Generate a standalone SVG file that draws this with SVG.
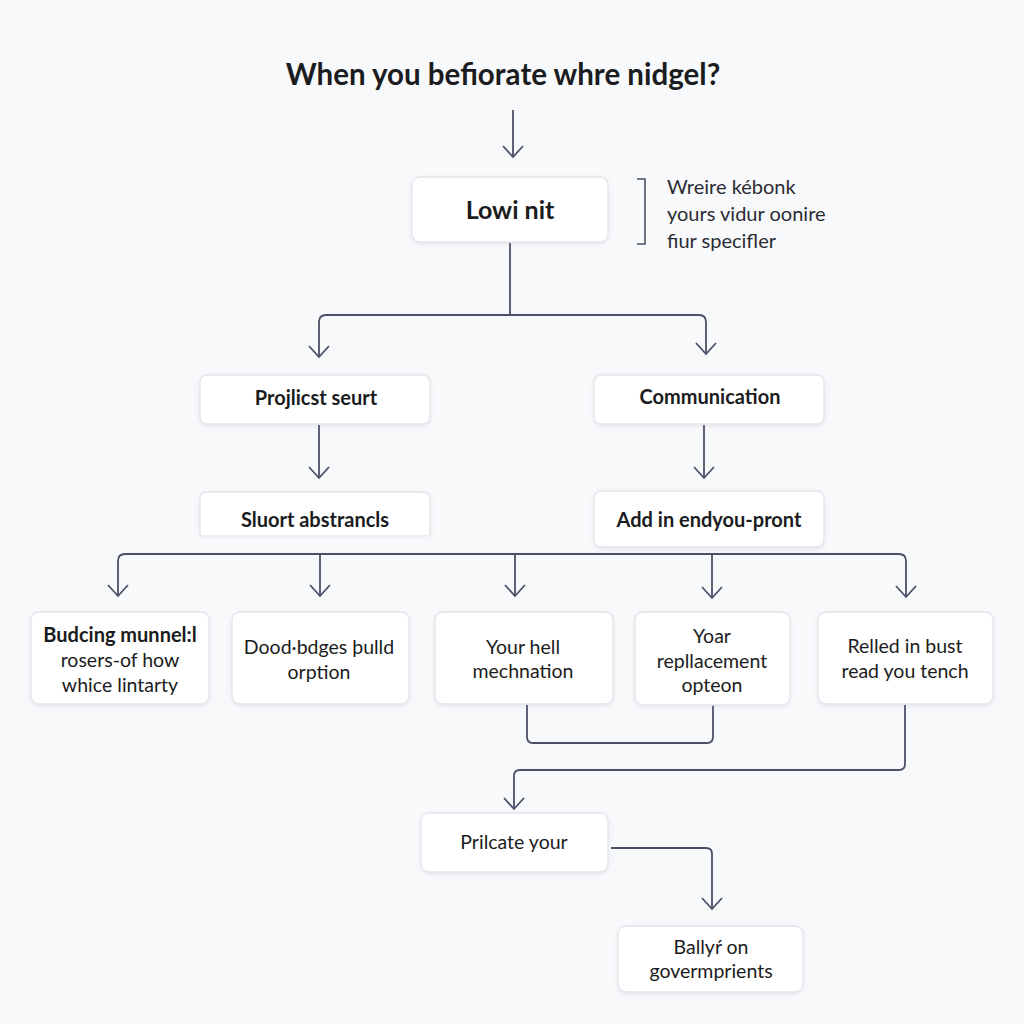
<svg xmlns="http://www.w3.org/2000/svg" width="1024" height="1024" viewBox="0 0 1024 1024">
<defs>
<filter id="sh" x="-10%" y="-10%" width="120%" height="130%">
<feDropShadow dx="0" dy="1.5" stdDeviation="2" flood-color="#8a93a8" flood-opacity="0.18"/>
</filter>
<marker id="ad" viewBox="0 0 22 14" refX="11" refY="12" markerWidth="22" markerHeight="14" markerUnits="userSpaceOnUse" orient="0">
<path d="M1,1 L11,12 L21,1" fill="none" stroke="#4a5068" stroke-width="1.8"/>
</marker>
</defs>
<style>
.bg{fill:#f8f9fb}
.box{fill:#ffffff;stroke:#e2e5eb;stroke-width:1.3;filter:url(#sh)}
.t{font-family:Lato,"Open Sans","Liberation Sans",sans-serif;fill:#1b1c20;text-anchor:middle}
.b{font-weight:700;font-size:20px}
.n{font-weight:400;font-size:19.5px}
.side{font-family:Lato,"Open Sans","Liberation Sans",sans-serif;fill:#2a2c33;font-size:20px}
.c{fill:none;stroke:#4a5068;stroke-width:1.8;stroke-linejoin:round}
</style>
<rect class="bg" x="0" y="0" width="1024" height="1024"/>

<text class="t" font-weight="700" x="503" y="85" font-size="29.5">When you befiorate whre nidgel?</text>

<g id="connectors">
<path class="c" d="M513,110 V157" marker-end="url(#ad)"/>
<path class="c" d="M510,243 V315 M510,315 H326 Q319,315 319,322 V357" marker-end="url(#ad)"/>
<path class="c" d="M510,315 H699 Q706,315 706,322 V354" marker-end="url(#ad)"/>
<path class="c" d="M319,425 V478" marker-end="url(#ad)"/>
<path class="c" d="M704,425 V478" marker-end="url(#ad)"/>
<path class="c" d="M125,554 Q118,554 118,561 V596" marker-end="url(#ad)"/>
<path class="c" d="M125,554 H899 Q906,554 906,561 V597" marker-end="url(#ad)"/>
<path class="c" d="M320,554 V596" marker-end="url(#ad)"/>
<path class="c" d="M515,554 V596" marker-end="url(#ad)"/>
<path class="c" d="M712,554 V598" marker-end="url(#ad)"/>
<path class="c" d="M527,705 V737 Q527,743 533,743 H707 Q713,743 713,737 V705"/>
<path class="c" d="M905,705 V764 Q905,770 899,770 H520 Q514,770 514,776 V809" marker-end="url(#ad)"/>
<path class="c" d="M611,848 H706 Q712,848 712,854 V909" marker-end="url(#ad)"/>
<path d="M637,179 H645 V244 H637" fill="none" stroke="#4a5068" stroke-width="1.6"/>
</g>

<g id="n-lowi">
<rect class="box" x="412" y="177" width="196" height="65" rx="8"/>
<text class="t" font-weight="700" x="510" y="219" font-size="25">Lowi nit</text>
</g>

<g id="n-note">
<text class="side" x="667" y="194">Wreire kébonk</text>
<text class="side" x="667" y="221">yours vidur oonire</text>
<text class="side" x="667" y="248">fiur specifler</text>
</g>

<g id="n-projlicst">
<rect class="box" x="200" y="375" width="230" height="49" rx="7"/>
<text class="t b" x="316" y="405">Projlicst seurt</text>
</g>

<g id="n-communication">
<rect class="box" x="594" y="375" width="230" height="49" rx="7"/>
<text class="t b" x="710" y="404">Communication</text>
</g>

<g id="n-sluort">
<path class="box" d="M200,535 V499 Q200,492 207,492 H423 Q430,492 430,499 V535"/>
<text class="t b" x="315" y="527">Sluort abstrancls</text>
</g>

<g id="n-add">
<rect class="box" x="594" y="491" width="230" height="56" rx="7"/>
<text class="t b" x="709" y="527">Add in endyou-pront</text>
</g>

<g id="n-budcing">
<rect class="box" x="31" y="612" width="178" height="92" rx="8"/>
<text class="t b" x="120" y="642">Budcing munnel:l</text>
<text class="t n" x="120" y="667">rosers-of how</text>
<text class="t n" x="120" y="692">whicе lintarty</text>
</g>

<g id="n-dood">
<rect class="box" x="232" y="612" width="177" height="92" rx="8"/>
<text class="t n" x="319" y="654">Dood·bdges þulld</text>
<text class="t n" x="319" y="679">orption</text>
</g>

<g id="n-yourhell">
<rect class="box" x="435" y="612" width="178" height="92" rx="8"/>
<text class="t n" x="523" y="654">Your hell</text>
<text class="t n" x="523" y="678">mechnation</text>
</g>

<g id="n-yoar">
<rect class="box" x="635" y="612" width="155" height="93" rx="8"/>
<text class="t n" x="712" y="643">Yoar</text>
<text class="t n" x="712" y="668">repllacement</text>
<text class="t n" x="712" y="692">opteon</text>
</g>

<g id="n-relled">
<rect class="box" x="818" y="612" width="175" height="92" rx="8"/>
<text class="t n" x="905" y="653">Relled in bust</text>
<text class="t n" x="905" y="678">read you tench</text>
</g>

<g id="n-prilcate">
<rect class="box" x="421" y="813" width="187" height="59" rx="8"/>
<text class="t n" x="514" y="849">Prilcate your</text>
</g>

<g id="n-bally">
<rect class="box" x="618" y="926" width="185" height="66" rx="8"/>
<text class="t n" x="711" y="954">Ballyŕ on</text>
<text class="t n" x="711" y="978">govermprients</text>
</g>
</svg>
